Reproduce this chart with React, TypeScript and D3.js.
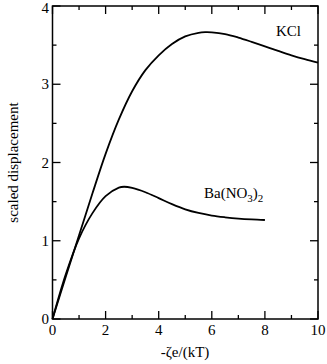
import React from "react";
import * as d3 from "d3";

// KCl curve
const kclX = [0, 0.5, 1, 1.5, 2, 2.5, 3, 3.5, 4, 4.5, 5, 5.5, 5.75, 6, 6.5, 7, 7.5, 8, 8.5, 9, 9.5, 10];
const kclY = [0, 0.54, 1.07, 1.6, 2.11, 2.55, 2.91, 3.18, 3.37, 3.515, 3.612, 3.658, 3.666, 3.664, 3.642, 3.597, 3.542, 3.484, 3.426, 3.37, 3.32, 3.275];

// Ba(NO3)2 curve
const baX = [0, 0.5, 1, 1.5, 2, 2.5, 2.7, 3, 3.5, 4, 4.5, 5, 5.5, 6, 6.5, 7, 7.5, 8];
const baY = [0, 0.57, 1.03, 1.35, 1.57, 1.68, 1.69, 1.675, 1.62, 1.545, 1.468, 1.402, 1.355, 1.322, 1.3, 1.283, 1.272, 1.265];

const xMajor = [0, 2, 4, 6, 8, 10];
const xMinor = [1, 3, 5, 7, 9];
const yMajor = [0, 1, 2, 3, 4];
const yMinor = [0.5, 1.5, 2.5, 3.5];

const W = 327;
const H = 364;
const left = 52.5;
const right = 318;
const top = 6;
const bottom = 319;
const font = "'Liberation Serif', 'Times New Roman', serif";

const App = () => {
    const x = d3.scaleLinear().domain([0, 10]).range([left, right]);
    const y = d3.scaleLinear().domain([0, 4]).range([bottom, top]);

    const line = d3.line<[number, number]>()
        .x(d => x(d[0]))
        .y(d => y(d[1]))
        .curve(d3.curveCatmullRom.alpha(0.5));

    const kcl = kclX.map((v, i) => [v, kclY[i]] as [number, number]);
    const ba = baX.map((v, i) => [v, baY[i]] as [number, number]);

    const major = 8;
    const minor = 4;

    return (
        <svg width={W} height={H} style={{ position: "absolute", left: 0, top: 0, background: "#fff" }}>
            {/* ticks, mirrored on all four sides */}
            <g stroke="black" strokeWidth={1.3}>
                {xMajor.concat(xMinor).map((t, i) => {
                    const len = xMajor.includes(t) ? major : minor;
                    return (
                        <g key={"x" + i}>
                            <line x1={x(t)} x2={x(t)} y1={bottom} y2={bottom - len} />
                            <line x1={x(t)} x2={x(t)} y1={top} y2={top + len} />
                        </g>
                    );
                })}
                {yMajor.concat(yMinor).map((t, i) => {
                    const len = yMajor.includes(t) ? major : minor;
                    return (
                        <g key={"y" + i}>
                            <line x1={left} x2={left + len} y1={y(t)} y2={y(t)} />
                            <line x1={right} x2={right - len} y1={y(t)} y2={y(t)} />
                        </g>
                    );
                })}
            </g>

            {/* frame */}
            <rect x={left} y={top} width={right - left} height={bottom - top}
                fill="none" stroke="black" strokeWidth={1.5} />

            {/* tick labels */}
            {xMajor.map(t => (
                <text key={"xl" + t} x={x(t)} y={335} textAnchor="middle"
                    style={{ fontFamily: font, fontSize: "15px" }}>{t}</text>
            ))}
            {yMajor.map(t => (
                <text key={"yl" + t} x={49} y={Math.max(y(t) + 5, 13)} textAnchor="end"
                    style={{ fontFamily: font, fontSize: "15px" }}>{t}</text>
            ))}

            {/* axis titles */}
            <text x={185} y={357} textAnchor="middle" style={{ fontFamily: font, fontSize: "15px" }}>
                -ζe/(kT)
            </text>
            <text transform={`translate(18, ${(top + bottom) / 2}) rotate(-90)`} textAnchor="middle"
                style={{ fontFamily: font, fontSize: "15px" }}>
                scaled displacement
            </text>

            {/* curves */}
            <path d={line(kcl) ?? ""} fill="none" stroke="black" strokeWidth={1.8} />
            <path d={line(ba) ?? ""} fill="none" stroke="black" strokeWidth={1.8} />

            {/* curve labels */}
            <text x={276} y={36} style={{ fontFamily: font, fontSize: "15px" }}>KCl</text>
            <text x={204} y={198} style={{ fontFamily: font, fontSize: "15px" }}>
                Ba(NO<tspan dy={4} style={{ fontSize: "11px" }}>3</tspan>
                <tspan dy={-4}>)</tspan>
                <tspan dy={4} style={{ fontSize: "11px" }}>2</tspan>
            </text>
        </svg>
    );
};

export default App;
